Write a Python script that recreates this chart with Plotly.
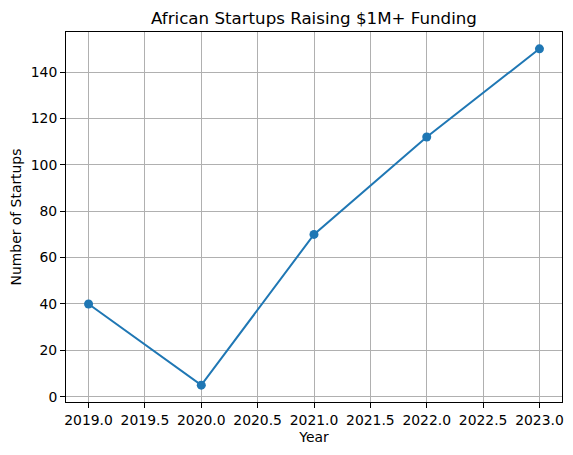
import plotly.graph_objects as go

years = [2019, 2020, 2021, 2022, 2023]
startups = [40, 5, 70, 112, 150]

title_text = "African Startups Raising $1M+ Funding"
x_label = "Year"
y_label = "Number of Startups"

font_family = "DejaVu Sans"
small = 13.9
big = 16.67

# page body has an 8px default margin; size the figure to fill the rest
W, H = 565, 447

fig = go.Figure()
fig.add_trace(go.Scatter(
    x=years, y=startups, mode="lines+markers",
    line=dict(color="#1f77b4", width=2),
    marker=dict(color="#1f77b4", size=9),
    showlegend=False,
    cliponaxis=False,
))

axis_common = dict(
    showgrid=True, gridcolor="#b0b0b0", gridwidth=1,
    showline=True, linecolor="black", linewidth=1, mirror=True,
    ticks="outside", ticklen=5, tickcolor="black", tickwidth=1,
    zeroline=False, automargin=False,
    tickfont=dict(family=font_family, size=small, color="black"),
)

fig.update_layout(
    width=W, height=H,
    paper_bgcolor="white", plot_bgcolor="white",
    margin=dict(l=58, r=11, t=24, b=53),
    font=dict(family=font_family, color="black"),
    title=dict(text=title_text, x=0.5, xref="paper", xanchor="center",
               y=1 - 10 / H, yref="container", yanchor="middle",
               automargin=False,
               font=dict(family=font_family, size=big, color="black")),
    xaxis=dict(range=[2018.8, 2023.2], dtick=0.5, tick0=2019, tickformat=".1f",
               title=dict(text=x_label, font=dict(family=font_family, size=small), standoff=5),
               **axis_common),
    yaxis=dict(range=[-2.25, 157.25], dtick=20, tick0=0,
               title=dict(text=y_label, font=dict(family=font_family, size=small), standoff=8),
               **axis_common),
)

fig.write_html("out.html")
